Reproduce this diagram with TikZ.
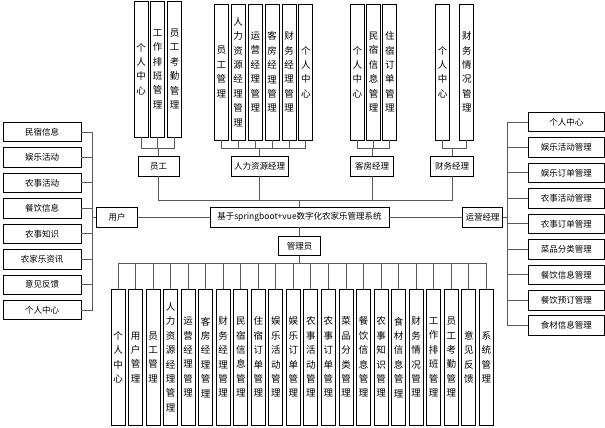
\documentclass[tikz,border=0pt]{standalone}
\usepackage{fontspec}
\setmainfont{Noto Sans CJK SC}
\begin{document}
\begin{tikzpicture}[x=1pt,y=-1pt,
  box/.style={draw=black,line width=0.9pt,inner sep=0pt,font=\fontsize{8.5}{10}\selectfont},
  vbox/.style={box,minimum width=14pt,minimum height=136pt,align=center,font=\fontsize{9.5}{14.4}\selectfont},
  hbox/.style={box,minimum height=19.5pt},
  conn/.style={draw=black!65,line width=0.9pt}]
\useasboundingbox (0,0) rectangle (605,428);
% ---- top group: 员工
\node[vbox] (a1) at (141,69) {个\\人\\中\\心};
\node[vbox] (a2) at (157.7,69) {工\\作\\排\\班\\管\\理};
\node[vbox] (a3) at (174.7,69) {员\\工\\考\\勤\\管\\理};
\node[hbox,minimum width=41pt,minimum height=20pt] (emp) at (158.5,166) {员工};
\foreach \n in {a1,a2,a3} \draw[conn] (\n.south) -- ++(0,11) -| (emp.north);
% ---- top group: 人力资源经理
\node[vbox] (b1) at (221.3,72) {员\\工\\管\\理};
\node[vbox] (b2) at (238.2,72) {人\\力\\资\\源\\经\\理\\管\\理};
\node[vbox] (b3) at (255.3,72) {运\\营\\经\\理\\管\\理};
\node[vbox] (b4) at (272,72) {客\\房\\经\\理\\管\\理};
\node[vbox] (b5) at (289,72) {财\\务\\经\\理\\管\\理};
\node[vbox] (b6) at (305.9,72) {个\\人\\中\\心};
\node[hbox,minimum width=57.3pt,minimum height=20pt] (hr) at (259.7,166) {人力资源经理};
\foreach \n in {b1,b2,b3,b4,b5,b6} \draw[conn] (\n.south) -- ++(0,8) -| (hr.north);
% ---- top group: 客房经理
\node[vbox] (c1) at (357.4,72) {个\\人\\中\\心};
\node[vbox] (c2) at (373.7,72) {民\\宿\\信\\息\\管\\理};
\node[vbox] (c3) at (389.9,72) {住\\宿\\订\\单\\管\\理};
\node[hbox,minimum width=42.6pt,minimum height=20pt] (room) at (372,166) {客房经理};
\foreach \n in {c1,c2,c3} \draw[conn] (\n.south) -- ++(0,8) -| (room.north);
% ---- top group: 财务经理
\node[vbox] (d1) at (442.5,72) {个\\人\\中\\心};
\node[vbox] (d2) at (466.9,72) {财\\务\\情\\况\\管\\理};
\node[hbox,minimum width=43pt,minimum height=20pt] (fin) at (452.2,166) {财务经理};
\foreach \n in {d1,d2} \draw[conn] (\n.south) -- ++(0,8) -| (fin.north);
% ---- centre
\node[hbox,minimum width=179pt,minimum height=20pt] (main) at (299.5,217) {基于springboot+vue数字化农家乐管理系统};
\foreach \n in {emp,hr,room,fin} \draw[conn] (\n.south) -- ++(0,24) -| (main.north);
\node[hbox,minimum width=40.6pt,minimum height=20pt] (user) at (117,217.2) {用户};
\node[hbox,minimum width=39.6pt,minimum height=20pt] (ops) at (482.5,217.2) {运营经理};
\draw[conn] (user.east) -- (user.east -| main.west);
\draw[conn] (main.east) -- (main.east -| ops.west);
\node[hbox,minimum width=42.7pt,minimum height=19.7pt] (admin) at (299.5,245.9) {管理员};
\draw[conn] (main.south) -- (admin.north);
% ---- left column
\foreach \t [count=\i] in {民宿信息,娱乐活动,农事活动,餐饮信息,农事知识,农家乐资讯,意见反馈,个人中心}{
  \node[hbox,minimum width=78pt] (L\i) at (42,{132+25.45*(\i-1)}) {\t};
  \draw[conn] (L\i.east) -- ++(10.7,0) |- (user.west);
}
% ---- right column
\foreach \t [count=\i] in {个人中心,娱乐活动管理,娱乐订单管理,农事活动管理,农事订单管理,菜品分类管理,餐饮信息管理,餐饮预订管理,食材信息管理}{
  \node[hbox,minimum width=76.2pt] (R\i) at (566.4,{122+25.46*(\i-1)}) {\t};
  \draw[conn] (R\i.west) -- ++(-20,0) |- (ops.east);
}
% ---- bottom row
\foreach \t [count=\i from 0] in {
  {个\\人\\中\\心},{用\\户\\管\\理},{员\\工\\管\\理},{人\\力\\资\\源\\经\\理\\管\\理},
  {运\\营\\经\\理\\管\\理},{客\\房\\经\\理\\管\\理},{财\\务\\经\\理\\管\\理},{民\\宿\\信\\息\\管\\理},
  {住\\宿\\订\\单\\管\\理},{娱\\乐\\活\\动\\管\\理},{娱\\乐\\订\\单\\管\\理},{农\\事\\活\\动\\管\\理},
  {农\\事\\订\\单\\管\\理},{菜\\品\\分\\类\\管\\理},{餐\\饮\\信\\息\\管\\理},{农\\事\\知\\识\\管\\理},
  {食\\材\\信\\息\\管\\理},{财\\务\\情\\况\\管\\理},{工\\作\\排\\班\\管\\理},{员\\工\\考\\勤\\管\\理},
  {意\\见\\反\\馈},{系\\统\\管\\理}}{
  \node[vbox,minimum height=135.7pt] (B\i) at ({118+17.54*\i},357.2) {\t};
  \draw[conn] (admin.south) -- ++(0,7.3) -| (B\i.north);
}
\end{tikzpicture}
\end{document}
